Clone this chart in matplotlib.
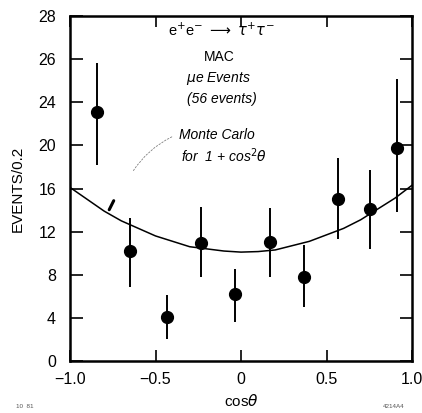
import matplotlib
matplotlib.use("Agg")
import matplotlib.pyplot as plt

plt.rcParams['font.family'] = ['Liberation Sans', 'DejaVu Sans']
plt.rcParams['mathtext.fontset'] = 'dejavusans'

# Measured angular distribution of mu-e events
cos_theta = [-0.84, -0.65, -0.435, -0.236, -0.035, 0.17, 0.368, 0.565, 0.754, 0.91]
events = [23.1, 10.2, 4.1, 10.9, 6.2, 11.0, 7.8, 15.0, 14.1, 19.8]
err_low = [4.9, 3.3, 2.1, 3.1, 2.6, 3.2, 2.8, 3.7, 3.7, 6.0]
err_high = [4.5, 3.1, 2.0, 3.4, 2.3, 3.2, 3.0, 3.8, 3.6, 6.4]

# Monte Carlo expectation for 1 + cos^2(theta)
mc_cos = [-1.0, -0.9, -0.8, -0.7, -0.6, -0.5, -0.4, -0.3, -0.2, -0.1, 0.0,
          0.1, 0.2, 0.3, 0.4, 0.5, 0.6, 0.7, 0.8, 0.9, 1.0]
mc_events = [16.1, 15.0, 13.9, 13.0, 12.3, 11.6, 11.1, 10.6, 10.4, 10.2, 10.1,
             10.15, 10.3, 10.7, 11.1, 11.7, 12.3, 13.1, 14.1, 15.1, 16.3]

y_ticks = [0, 4, 8, 12, 16, 20, 24, 28, 32]
y_tick_labels = ["0", "4", "8", "12", "16", "20", "24", "26", "28"]
x_ticks = [-1.0, -0.5, 0.0, 0.5, 1.0]
x_tick_labels = ["\u22121.0", "\u22120.5", "0", "0.5", "1.0"]

fig = plt.figure(figsize=(4.22, 4.13), dpi=100)
ax = fig.add_axes([70 / 422, 52 / 413, 342 / 422, 345 / 413])

ax.plot(mc_cos, mc_events, color='black', lw=1.1, zorder=2)
ax.errorbar(cos_theta, events, yerr=[err_low, err_high], fmt='o', color='black',
            ms=8.5, elinewidth=1.4, capsize=0, zorder=3)

ax.set_xlim(-1.0, 1.0)
ax.set_ylim(0, 32)
ax.set_yticks(y_ticks)
ax.set_yticklabels(y_tick_labels)
ax.set_xticks(x_ticks)
ax.set_xticklabels(x_tick_labels)
ax.tick_params(axis='y', direction='in', length=9, width=1.2, left=True, right=True,
               labelsize=11.5, pad=10)
ax.tick_params(axis='x', direction='in', length=8, width=1.2, top=True, bottom=True,
               labelsize=11.5, pad=8)
for side in ax.spines.values():
    side.set_linewidth(1.8)

ax.set_ylabel("EVENTS/0.2", fontsize=11, labelpad=10)
ax.set_xlabel(r"cos$\theta$", fontsize=11, labelpad=4)

# Annotations inside the frame
ax.text(-0.115, 30.7, r"e$^{+}$e$^{-}$ $\longrightarrow$ $\tau^{+}\tau^{-}$", fontsize=10.5,
        ha='center', va='center')
ax.text(-0.13, 28.2, "MAC", fontsize=10, ha='center', va='center')
ax.text(-0.13, 26.2, r"$\mu$e Events", fontsize=10, ha='center', va='center', style='italic')
ax.text(-0.11, 24.3, "(56 events)", fontsize=10, ha='center', va='center', style='italic')
ax.text(-0.36, 21.0, "Monte Carlo", fontsize=10, ha='left', va='center', style='italic')
ax.text(-0.35, 19.0, r"for  1 + cos$^{2}\theta$", fontsize=10, ha='left', va='center',
        style='italic')

# Leader from the label toward the curve
ax.annotate("", xy=(-0.64, 17.4), xytext=(-0.39, 20.9),
            arrowprops=dict(arrowstyle='-', color='gray', lw=0.6, ls=(0, (2, 2)),
                            connectionstyle='arc3,rad=0.15'))
ax.annotate("", xy=(-0.778, 13.8), xytext=(-0.737, 15.1),
            arrowprops=dict(arrowstyle='-', color='black', lw=2.2))

fig.text(16 / 422, 1 - 406 / 413, "10  81", fontsize=4.5, color='#555555', va='center')
fig.text(383 / 422, 1 - 406 / 413, "4214A4", fontsize=4.5, color='#555555', va='center')

fig.savefig("out.png", dpi=100)
